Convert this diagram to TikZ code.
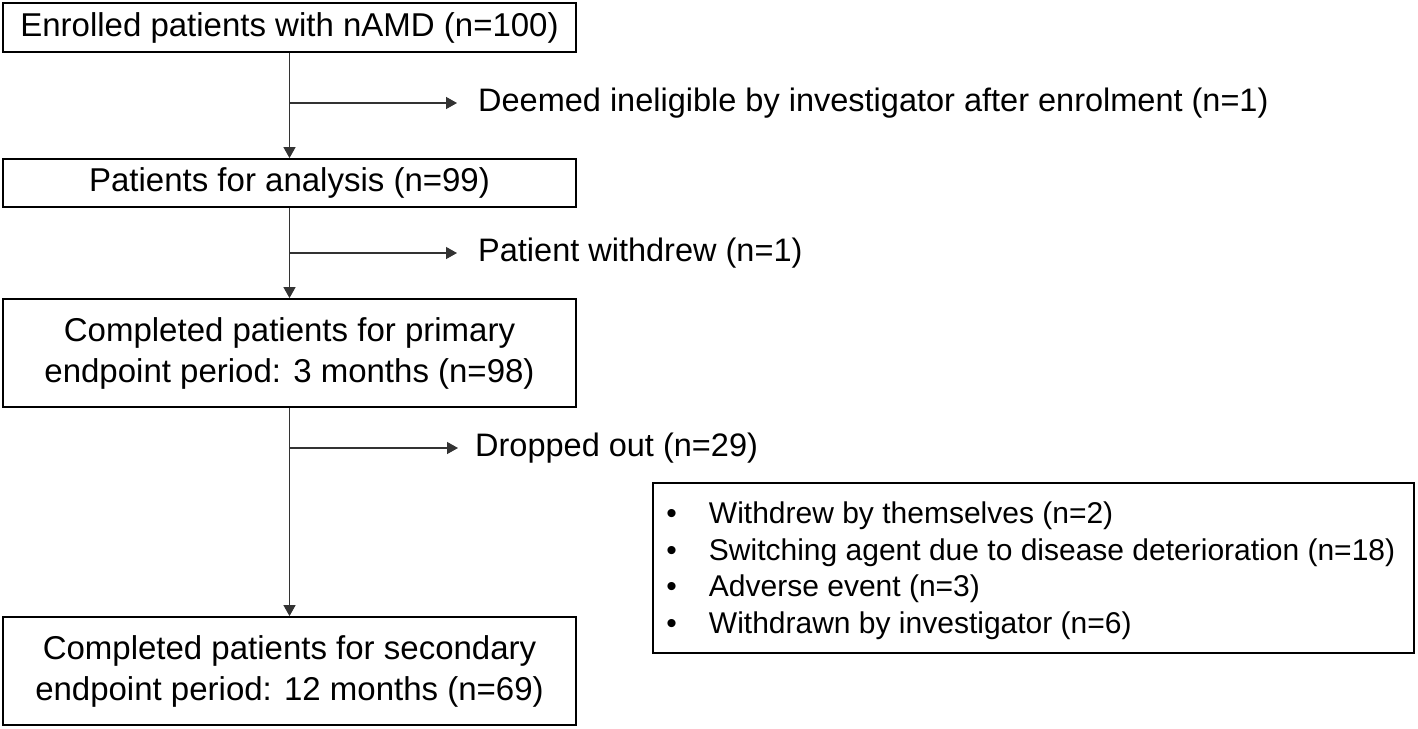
\documentclass[tikz,border=0pt]{standalone}
\usepackage{fontspec}
\setmainfont{Liberation Sans}
\usetikzlibrary{arrows.meta}
\begin{document}
\begin{tikzpicture}[x=1pt,y=-1pt,
  box/.style={draw=black, line width=1.8pt, minimum width=573pt, inner sep=0pt, align=center, font=\fontsize{33}{41}\selectfont},
  conn/.style={draw=black!80, line width=1.3pt},
  arr/.style={conn, -{Triangle[length=11pt,width=12pt]}},
  lbl/.style={anchor=west, inner sep=0pt, font=\fontsize{32.5}{40}\selectfont},
  listbox/.style={draw=black, line width=1.5pt, minimum width=761pt, minimum height=170pt, inner sep=0pt},
  listtext/.style={anchor=west, inner sep=0pt, font=\fontsize{30}{36.5}\selectfont}]
\useasboundingbox (0,0) rectangle (1418,728);
\node[box, minimum height=49pt] (b1) at (289.5,27.5) {Enrolled patients with nAMD (n=100)};
\node[box, minimum height=48pt] (b2) at (289.5,183) {Patients for analysis (n=99)};
\node[box, minimum height=108pt] (b3) at (289.5,353) {Completed patients for primary\\endpoint period: 3 months (n=98)};
\node[box, minimum height=108pt] (b4) at (289.5,671) {Completed patients for secondary\\endpoint period: 12 months (n=69)};
\node[lbl] (t1) at (478,103) {Deemed ineligible by investigator after enrolment (n=1)};
\node[lbl] (t2) at (478,253) {Patient withdrew (n=1)};
\node[lbl] (t3) at (475,448) {Dropped out (n=29)};
\node[listbox] (lb) at (1033.5,568) {};
\node[listtext] (lt) at ([xshift=14pt,yshift=-3pt]lb.west) {\begin{tabular}{@{}l@{\hspace{32pt}}l@{}}
\textbullet & Withdrew by themselves (n=2)\\
\textbullet & Switching agent due to disease deterioration (n=18)\\
\textbullet & Adverse event (n=3)\\
\textbullet & Withdrawn by investigator (n=6)
\end{tabular}};
\coordinate (j1) at (289.5,103);
\coordinate (j2) at (289.5,253);
\coordinate (j3) at (289.5,448);
\draw[arr] (b1.south) -- (b2.north);
\draw[arr] (b2.south) -- (b3.north);
\draw[arr] (b3.south) -- (b4.north);
\draw[arr, shorten >=21pt] (j1) -- (t1.west);
\draw[arr, shorten >=21pt] (j2) -- (t2.west);
\draw[arr, shorten >=17pt] (j3) -- (t3.west);
\end{tikzpicture}
\end{document}
